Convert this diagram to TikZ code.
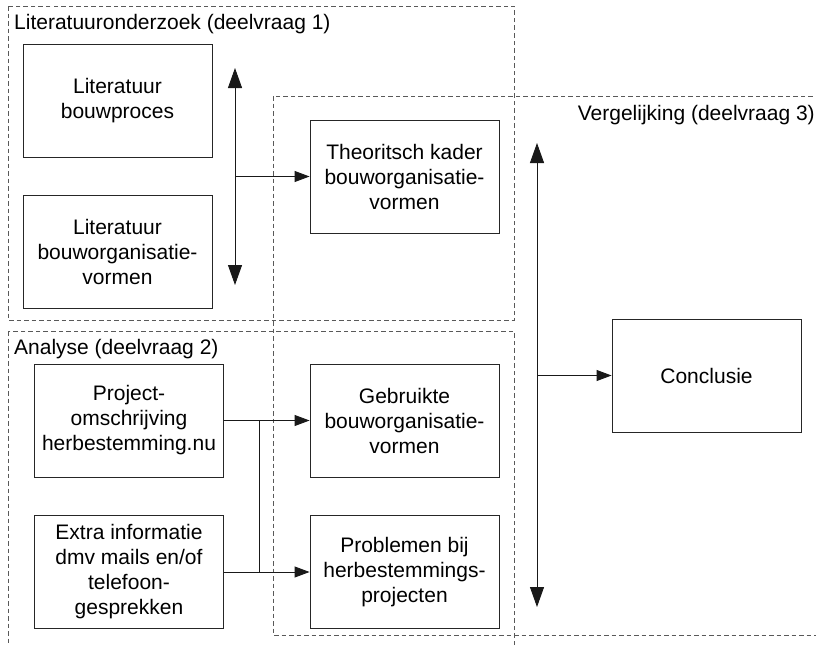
\documentclass[tikz,border=0pt]{standalone}
\usepackage{fontspec}
\setmainfont{Liberation Sans}
\usetikzlibrary{arrows.meta}

\tikzset{
  stage/.style={draw=black!85, line width=0.9pt, minimum width=189pt, minimum height=113pt,
                inner sep=2pt, align=center, font=\fontsize{21}{25}\selectfont},
  region/.style={draw=black!65, line width=0.9pt, dash pattern=on 4.5pt off 3pt},
  regiontitle/.style={inner sep=0pt, font=\fontsize{21}{25}\selectfont},
  flow/.style={draw=black!90, line width=0.9pt, -{Triangle[length=15pt,width=11pt]}},
  bigflow/.style={draw=black!90, line width=0.9pt,
                  {Triangle[length=20pt,width=14pt]}-{Triangle[length=20pt,width=14pt]}},
  link/.style={draw=black!90, line width=0.9pt}
}

\begin{document}
\begin{tikzpicture}[x=1pt,y=-1pt]
  \useasboundingbox (0,0) rectangle (816,645);
  \fill[white] (0,0) rectangle (816,645);

  % dashed regions
  \draw[region] (8,6) rectangle (514,320);
  \draw[region] (8,331) rectangle (514,670);
  \draw[region] (273,96) rectangle (840,635);

  % region titles
  \node[regiontitle, anchor=west] (t1) at (14,24) {Literatuuronderzoek (deelvraag 1)};
  \node[regiontitle, anchor=west] (t2) at (14,349) {Analyse (deelvraag 2)};
  \node[regiontitle, anchor=east] (t3) at (815,115) {Vergelijking (deelvraag 3)};

  % stages
  \node[stage] (lb) at (117.5,100.5) {Literatuur\\bouwproces};
  \node[stage] (lo) at (117.5,251.5) {Literatuur\\bouworganisatie-\\vormen};
  \node[stage] (tk) at (404.5,176.5) {Theoritsch kader\\bouworganisatie-\\vormen};
  \node[stage] (pr) at (129,420.5) {Project-\\omschrijving\\herbestemming.nu};
  \node[stage] (ex) at (129,572) {Extra informatie\\dmv mails en/of\\telefoon-\\gesprekken};
  \node[stage] (ge) at (404.5,420.5) {Gebruikte\\bouworganisatie-\\vormen};
  \node[stage] (pb) at (404.5,572) {Problemen bij\\herbestemmings-\\projecten};
  \node[stage] (co) at (706.5,375.5) {Conclusie};

  % literature bundle
  \coordinate (la) at (235,68);
  \coordinate (lz) at (235,285);
  \draw[bigflow] (la) -- (lz);
  \draw[flow] (tk.west -| la) -- (tk.west);

  % analysis inputs
  \coordinate (jn) at (259,0);
  \draw[flow] (pr.east) -- (ge.west);
  \draw[flow] (ex.east) -- (pb.west);
  \draw[link] (pr.east -| jn) -- (ex.east -| jn);

  % comparison bundle
  \coordinate (va) at (537,143);
  \coordinate (vz) at (537,607);
  \draw[bigflow] (va) -- (vz);
  \draw[flow] (co.west -| va) -- (co.west);
\end{tikzpicture}
\end{document}
